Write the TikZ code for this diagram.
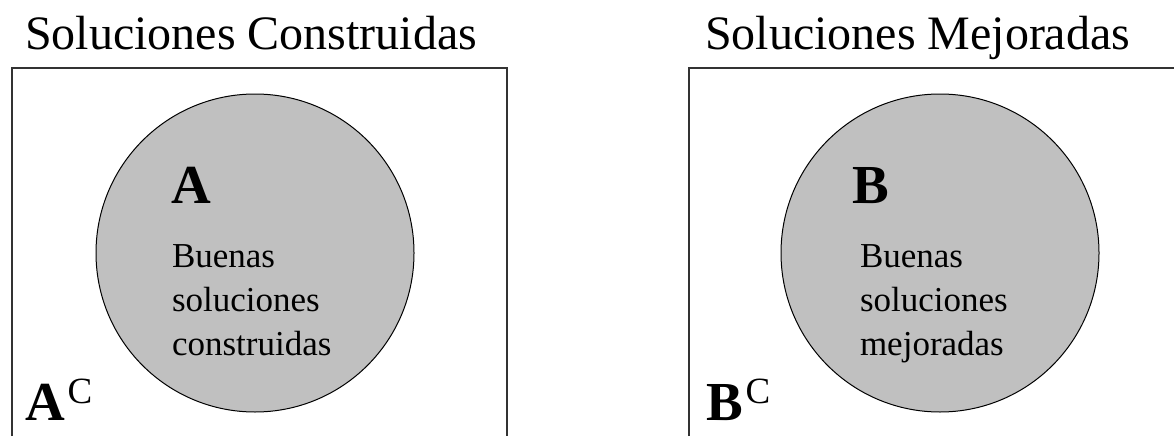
\documentclass[tikz,border=0pt]{standalone}
\usepackage{fontspec}
\setmainfont{Liberation Serif}
\usetikzlibrary{positioning}
\definecolor{setfill}{HTML}{C0C0C0}
\definecolor{boxline}{HTML}{333333}

\begin{document}
\begin{tikzpicture}[
    x=1pt, y=-1pt,
    every node/.style={inner sep=0pt, outer sep=0pt},
    title/.style={anchor=base west, font=\fontsize{48}{58}\selectfont},
    frame/.style={draw=boxline, line width=2pt},
    setcircle/.style={
        circle, draw=black, line width=1pt, fill=setfill,
        minimum size=318pt,
    },
    setname/.style={anchor=base west, font=\fontsize{55}{60}\selectfont\bfseries},
    setnote/.style={anchor=base west, align=left,
        font=\fontsize{35}{44}\selectfont},
    compl/.style={anchor=base west, font=\fontsize{37}{40}\selectfont},
]
\useasboundingbox (0,0) rectangle (1174,436);
\fill[white] (0,0) rectangle (1174,436);

% ================================================ left: constructed
\node[title] (tA) at (25,50) {Soluciones Construidas};
\draw[frame] (12,436) |- (507,68) -- (507,436);
\node[setcircle] (cA) at (255,253) {};
\node[setname] (nA) at (171,203) {A};
% base of a multi-line node is its last line
\node[setnote] (bA) at (172,355) {Buenas\\soluciones\\construidas};
\node[setname] (acA) at (25,420) {A};
\node[compl] (supA) at (acA.base east) [yshift=17pt, xshift=3pt] {C};

% ================================================ right: improved
\node[title] (tB) at (705,50) {Soluciones Mejoradas};
\draw[frame] (689,436) |- (1174,68);
\node[setcircle] (cB) at (940,253) {};
\node[setname] (nB) at (852,203) {B};
\node[setnote] (bB) at (860,355) {Buenas\\soluciones\\mejoradas};
\node[setname] (acB) at (706,420) {B};
\node[compl] (supB) at (acB.base east) [yshift=17pt, xshift=3pt] {C};

\end{tikzpicture}
\end{document}
